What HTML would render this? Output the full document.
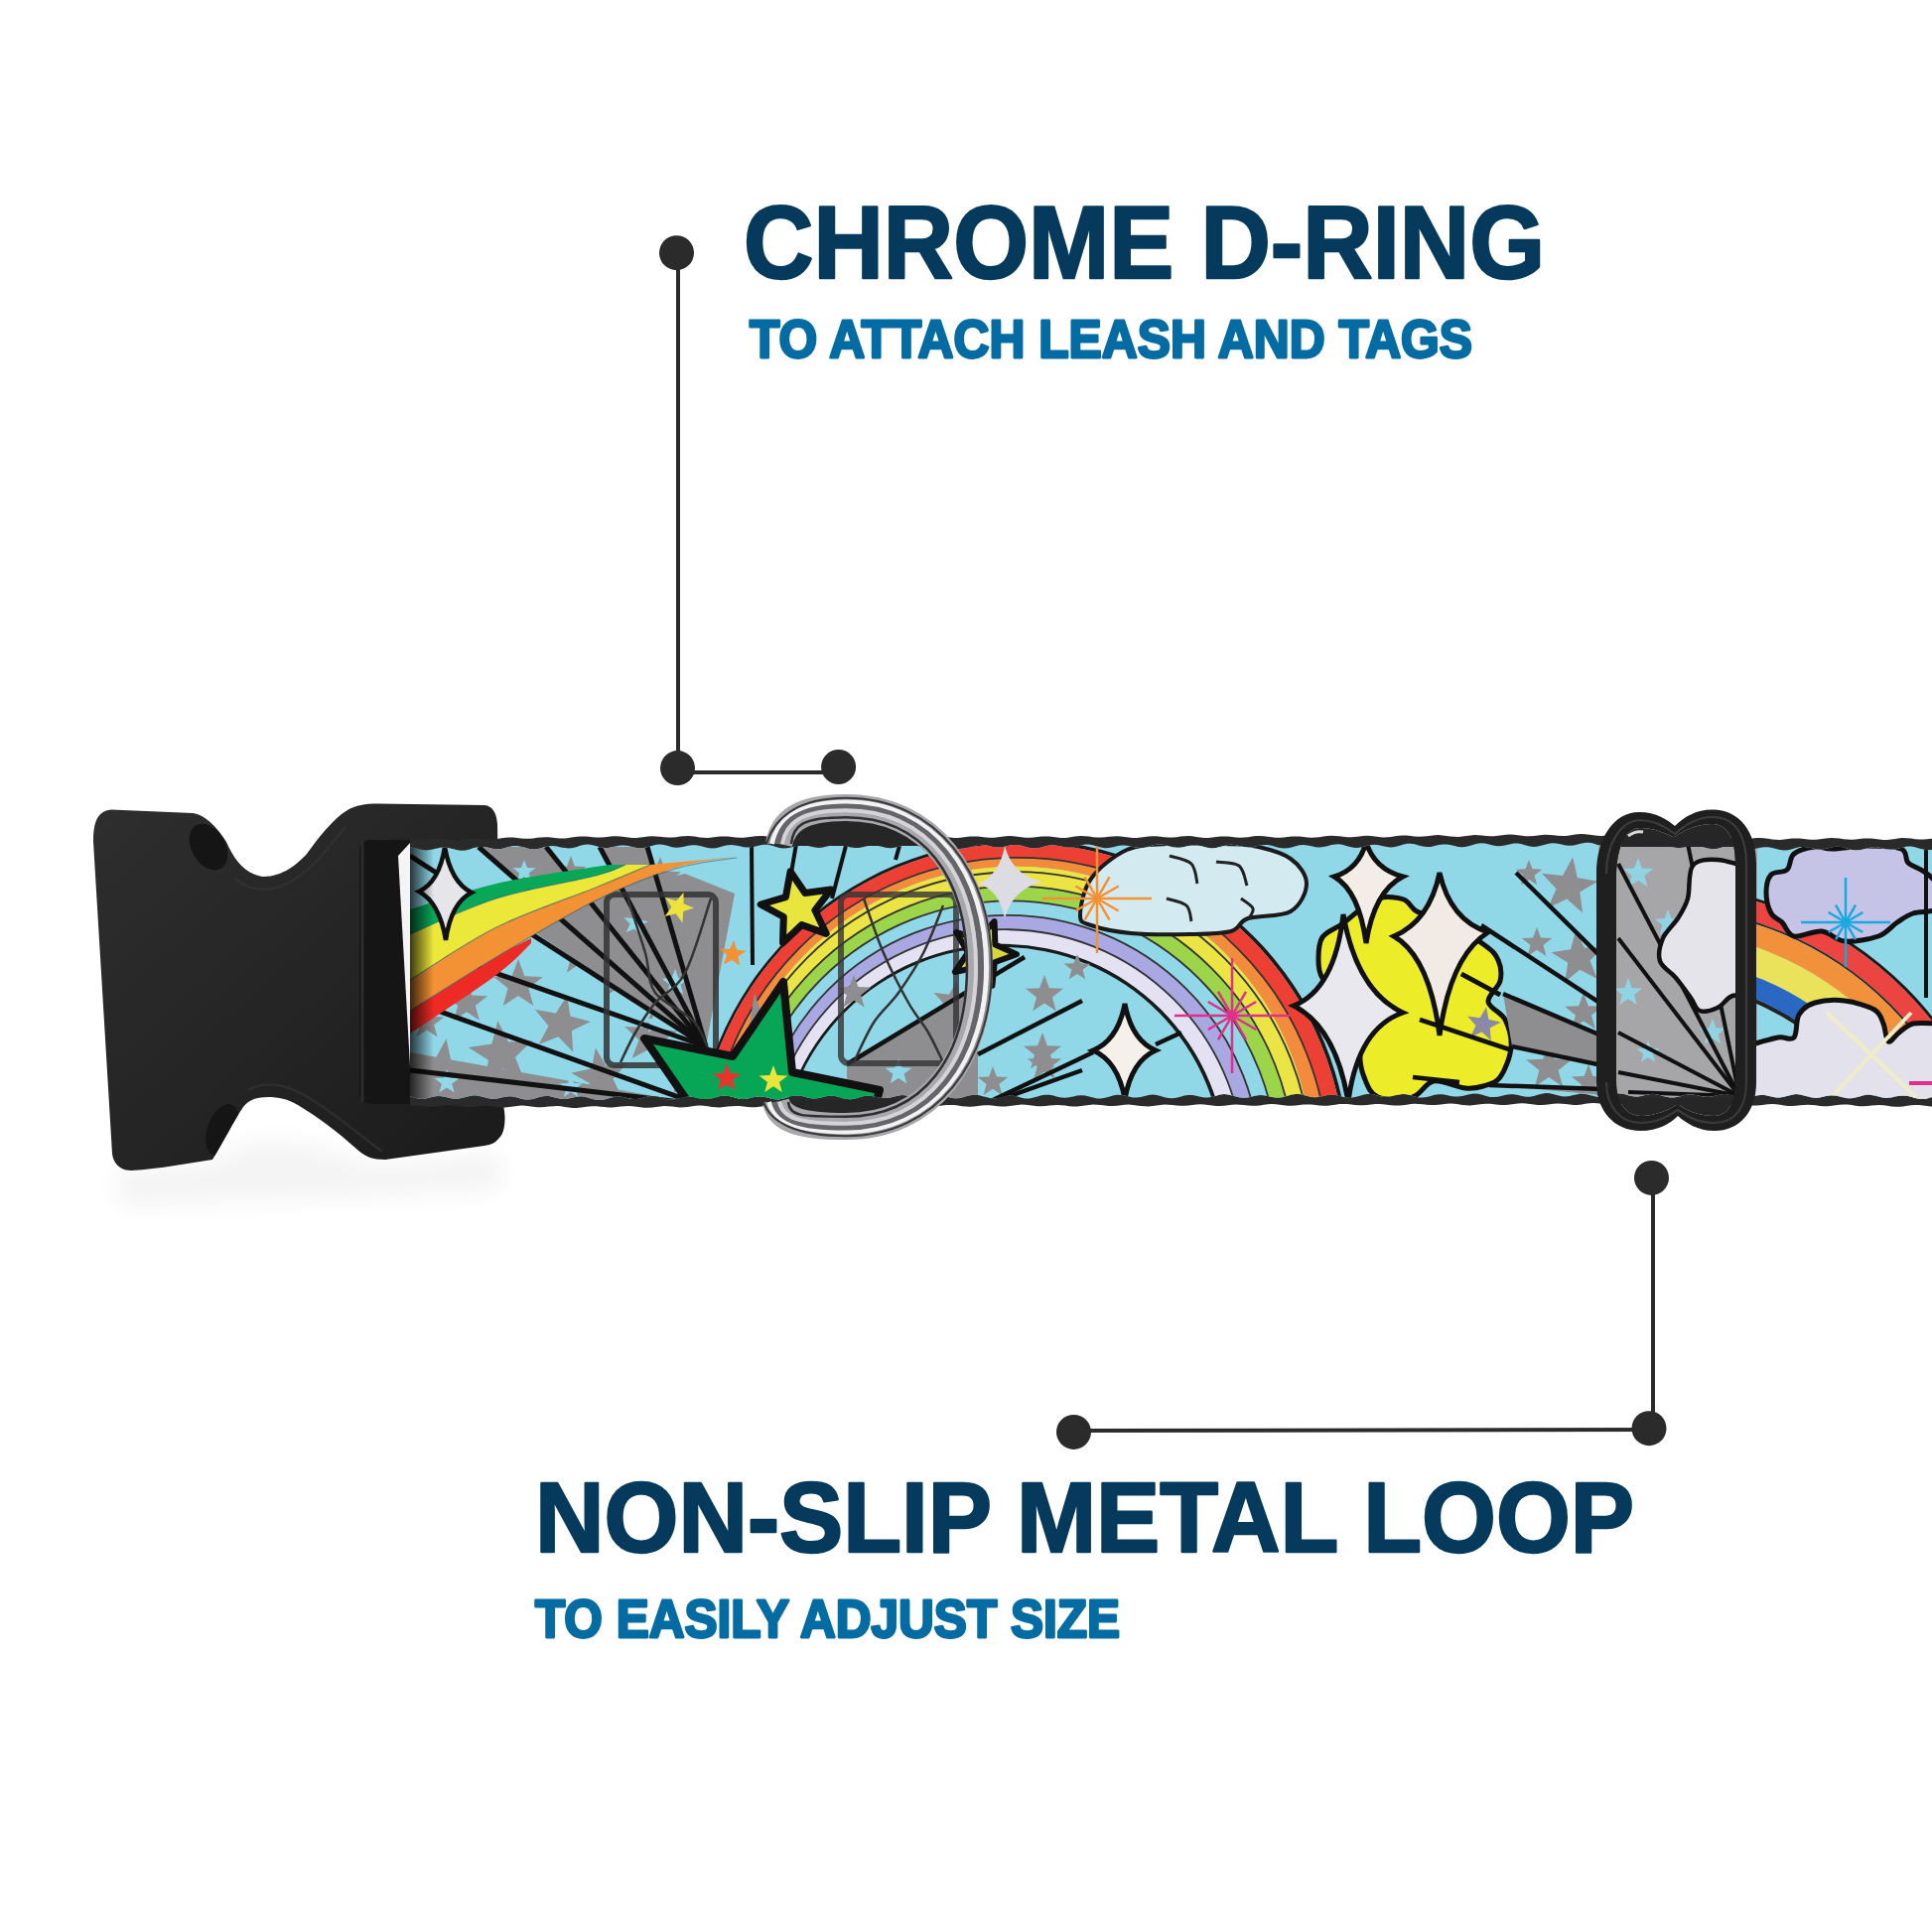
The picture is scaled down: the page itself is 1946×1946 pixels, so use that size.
<!DOCTYPE html>
<html><head><meta charset="utf-8"><title>Collar</title>
<style>
html,body{margin:0;padding:0;background:#fff;width:1946px;height:1946px;overflow:hidden}
svg{display:block}
.h{font-family:"Liberation Sans",sans-serif;font-weight:bold;fill:#053a5c;stroke:#053a5c;stroke-width:2.5;stroke-linejoin:round}
.s{font-family:"Liberation Sans",sans-serif;font-weight:bold;fill:#046ca3;stroke:#046ca3;stroke-width:2.8;stroke-linejoin:round}
</style></head><body>
<svg width="1946" height="1946" viewBox="0 0 1946 1946">
<rect width="1946" height="1946" fill="#fff"/>
<!-- headings -->
<text class="h" x="749" y="280" font-size="104" textLength="807" lengthAdjust="spacingAndGlyphs">CHROME D-RING</text>
<text class="s" x="755" y="360" font-size="53" textLength="728" lengthAdjust="spacingAndGlyphs">TO ATTACH LEASH AND TAGS</text>
<text class="h" x="539" y="1563" font-size="101" textLength="1107" lengthAdjust="spacingAndGlyphs">NON-SLIP METAL LOOP</text>
<text class="s" x="539" y="1649" font-size="53" textLength="589" lengthAdjust="spacingAndGlyphs">TO EASILY ADJUST SIZE</text>
<!-- callouts -->
<g fill="#2b2b2b" stroke="none">
<circle cx="681.5" cy="254.7" r="17.5"/>
<circle cx="682.5" cy="773.6" r="17.5"/>
<circle cx="844.6" cy="772.5" r="17.5"/>
<circle cx="1663.5" cy="1186.4" r="17.5"/>
<circle cx="1661" cy="1438.7" r="17.5"/>
<circle cx="1081.5" cy="1442.4" r="17.5"/>
</g>
<g stroke="#2b2b2b" stroke-width="4" fill="none">
<line x1="683" y1="255" x2="683" y2="776"/>
<line x1="683" y1="778" x2="845" y2="778"/>
<line x1="1665" y1="1186" x2="1665" y2="1440"/>
<line x1="1081" y1="1441" x2="1661" y2="1440"/>
</g>
<defs><linearGradient id="bkg" x1="0" y1="0" x2="1" y2="1"><stop offset="0" stop-color="#2e2e2e"/><stop offset="0.55" stop-color="#242424"/><stop offset="1" stop-color="#1a1a1a"/></linearGradient><filter id="blur8" x="-50%" y="-50%" width="200%" height="200%"><feGaussianBlur stdDeviation="12"/></filter></defs>
<path d="M115,1178 L215,1170 L250,1150 L300,1150 L380,1172 L505,1160 L505,1200 L120,1215Z" fill="#000" opacity="0.045" filter="url(#blur8)"/>
<path d="M94,848 C94,830 97,817 112,815.5 L194,819 C208,821 220,835 228,848 C236,866 246,880 265,883 C285,883 300,870 309,860 C320,845 335,825 350,816 C358,811 368,809.5 380,809.5 L488,811 C496,812 500,818 501,830 L505,1108 C510,1118 510,1140 503,1146 C498,1152 494,1153 488,1154 L388,1168 C375,1168 368,1165 360,1158 C340,1140 320,1125 300,1113 C290,1107 280,1105 270,1105 C258,1105 250,1108 245,1115 C235,1130 225,1150 214,1168 L165,1175.7 C150,1177 135,1180 127,1178.5 C118,1176 114,1170 113,1162 Z" fill="url(#bkg)" />
<defs><clipPath id="bkc"><path d="M94,848 C94,830 97,817 112,815.5 L194,819 C208,821 220,835 228,848 C236,866 246,880 265,883 C285,883 300,870 309,860 C320,845 335,825 350,816 C358,811 368,809.5 380,809.5 L488,811 C496,812 500,818 501,830 L505,1108 C510,1118 510,1140 503,1146 C498,1152 494,1153 488,1154 L388,1168 C375,1168 368,1165 360,1158 C340,1140 320,1125 300,1113 C290,1107 280,1105 270,1105 C258,1105 250,1108 245,1115 C235,1130 225,1150 214,1168 L165,1175.7 C150,1177 135,1180 127,1178.5 C118,1176 114,1170 113,1162 Z"/></clipPath></defs>
<g clip-path="url(#bkc)">
<ellipse cx="210" cy="853" rx="17" ry="25" fill="#151515" transform="rotate(-30 210 853)"/>
<ellipse cx="224" cy="1138" rx="15" ry="27" fill="#151515" transform="rotate(20 224 1138)"/>
<path d="M236,884 C245,893 255,896 268,896 C295,894 320,870 348,832" fill="none" stroke="#333" stroke-width="2.5" opacity="0.7"/>
<path d="M250,1098 C260,1092 270,1092 280,1093 C310,1098 345,1130 385,1160" fill="none" stroke="#333" stroke-width="2.5" opacity="0.7"/>
</g>
<rect x="362" y="846" width="60" height="266" rx="10" fill="#151515"/>
<path d="M365,846 L365,1110" stroke="#2c2c2c" stroke-width="3"/>
<polygon points="401,862 413,849 418,1107 415,1109" fill="#f4f4f4"/>
<defs><clipPath id="cin"><path d="M413,853.6 L417,854.1 L421,855 L425,856 L429,856.4 L433,856.1 L437,855.3 L441,854.2 L445,853.5 L449,853.5 L453,854.2 L457,855.3 L461,856.3 L465,856.7 L469,856.4 L473,855.4 L477,854.1 L481,853.2 L485,852.9 L489,853.3 L493,854.1 L497,854.9 L501,855.3 L505,854.9 L509,853.9 L513,852.8 L517,852 L521,852 L525,852.7 L529,853.8 L533,854.9 L537,855.4 L541,855.2 L545,854.3 L549,853.1 L553,852.3 L557,852 L561,852.5 L565,853.4 L569,854.1 L573,854.4 L577,853.9 L581,852.9 L585,851.6 L589,850.8 L593,850.6 L597,851.2 L601,852.3 L605,853.4 L609,854 L613,853.9 L617,853.1 L621,852.2 L625,851.5 L629,851.4 L633,852.1 L637,853.1 L641,854 L645,854.4 L649,853.9 L653,852.9 L657,851.7 L661,850.8 L665,850.6 L669,851.1 L673,852.1 L677,853.2 L681,853.7 L685,853.5 L689,852.7 L693,851.8 L697,851.2 L701,851.2 L705,851.9 L709,853.1 L713,854.1 L717,854.6 L721,854.2 L725,853.3 L729,852.1 L733,851.2 L737,850.9 L741,851.4 L745,852.3 L749,853.2 L753,853.6 L757,853.3 L761,852.5 L765,851.5 L769,850.8 L773,850.8 L777,851.6 L781,852.8 L785,853.9 L789,854.5 L793,854.3 L797,853.4 L801,852.3 L805,851.5 L809,851.3 L813,851.8 L817,852.7 L821,853.5 L825,853.9 L829,853.5 L833,852.5 L837,851.4 L841,850.6 L845,850.5 L849,851.2 L853,852.4 L857,853.5 L861,854.1 L865,854 L869,853.2 L873,852.2 L877,851.5 L881,851.4 L885,852 L889,853 L893,853.9 L897,854.3 L901,853.8 L905,852.8 L909,851.6 L913,850.7 L917,850.5 L921,851.1 L925,852.2 L929,853.2 L933,853.8 L937,853.6 L941,852.8 L945,851.9 L949,851.3 L953,851.3 L957,852 L961,853.1 L965,854.1 L969,854.5 L973,854.2 L977,853.2 L981,852 L985,851 L989,850.8 L993,851.3 L997,852.2 L1001,853.2 L1005,853.6 L1009,853.4 L1013,852.5 L1017,851.5 L1021,850.9 L1025,850.9 L1029,851.7 L1033,852.9 L1037,854 L1041,854.5 L1045,854.3 L1049,853.4 L1053,852.3 L1057,851.4 L1061,851.2 L1065,851.7 L1069,852.6 L1073,853.4 L1077,853.8 L1081,853.4 L1085,852.5 L1089,851.4 L1093,850.6 L1097,850.6 L1101,851.3 L1105,852.5 L1109,853.6 L1113,854.2 L1117,854.1 L1121,853.3 L1125,852.3 L1129,851.5 L1133,851.4 L1137,852 L1141,852.9 L1145,853.8 L1149,854.2 L1153,853.7 L1157,852.7 L1161,851.5 L1165,850.6 L1169,850.5 L1173,851.1 L1177,852.2 L1181,853.3 L1185,853.8 L1189,853.7 L1193,853 L1197,852 L1201,851.4 L1205,851.3 L1209,852 L1213,853.1 L1217,854.1 L1221,854.5 L1225,854.1 L1229,853.1 L1233,851.9 L1237,850.9 L1241,850.7 L1245,851.2 L1249,852.2 L1253,853.1 L1257,853.6 L1261,853.4 L1265,852.6 L1269,851.6 L1273,851 L1277,851 L1281,851.8 L1285,853 L1289,854 L1293,854.6 L1297,854.3 L1301,853.4 L1305,852.2 L1309,851.3 L1313,851 L1317,851.4 L1321,852.3 L1325,853.2 L1329,853.5 L1333,853.1 L1337,852.2 L1341,851.1 L1345,850.4 L1349,850.3 L1353,851 L1357,852.2 L1361,853.3 L1365,853.9 L1369,853.7 L1373,852.9 L1377,851.8 L1381,851 L1385,850.8 L1389,851.3 L1393,852.2 L1397,853.1 L1401,853.4 L1405,852.9 L1409,851.9 L1413,850.7 L1417,849.8 L1421,849.7 L1425,850.3 L1429,851.4 L1433,852.5 L1437,853 L1441,852.9 L1445,852.1 L1449,851.1 L1453,850.4 L1457,850.4 L1461,851 L1465,852 L1469,852.9 L1473,853.3 L1477,852.8 L1481,851.8 L1485,850.5 L1489,849.6 L1493,849.3 L1497,849.8 L1501,850.8 L1505,851.8 L1509,852.3 L1513,852 L1517,851.2 L1521,850.2 L1525,849.6 L1529,849.6 L1533,850.3 L1537,851.4 L1541,852.5 L1545,852.9 L1549,852.6 L1553,851.6 L1557,850.4 L1561,849.5 L1565,849.2 L1569,849.7 L1573,850.6 L1577,851.4 L1581,851.8 L1585,851.4 L1589,850.5 L1593,849.5 L1597,848.7 L1601,848.8 L1605,849.6 L1609,850.9 L1613,852.1 L1617,852.8 L1621,852.7 L1625,852 L1629,851 L1633,850.3 L1637,850.2 L1641,850.8 L1645,851.8 L1649,852.8 L1653,853.2 L1657,852.9 L1661,852 L1665,850.9 L1669,850.2 L1673,850.2 L1677,851 L1681,852.2 L1685,853.4 L1689,854.1 L1693,854.1 L1697,853.4 L1701,852.5 L1705,851.9 L1709,852 L1713,852.7 L1717,853.8 L1721,854.8 L1725,855.2 L1729,854.9 L1733,854 L1737,852.8 L1741,852 L1745,851.9 L1749,852.6 L1753,853.7 L1757,854.8 L1761,855.5 L1765,855.4 L1769,854.7 L1773,853.8 L1777,853.2 L1781,853.2 L1785,853.9 L1789,855.1 L1793,856.1 L1797,856.6 L1801,856.2 L1805,855.2 L1809,854 L1813,853.1 L1817,852.9 L1821,853.4 L1825,854.3 L1829,855.2 L1833,855.6 L1837,855.3 L1841,854.5 L1845,853.5 L1849,852.8 L1853,852.8 L1857,853.6 L1861,854.8 L1865,855.9 L1869,856.5 L1873,856.3 L1877,855.4 L1881,854.3 L1885,853.4 L1889,853.2 L1893,853.7 L1897,854.7 L1901,855.5 L1905,855.8 L1909,855.5 L1913,854.5 L1917,853.4 L1921,852.6 L1925,852.5 L1929,853.2 L1933,854.4 L1937,855.5 L1941,856.2 L1945,856 L1949,855.3 L1949,1104.1 L1945,1105.3 L1941,1106.4 L1937,1107 L1933,1106.8 L1929,1106 L1925,1104.8 L1921,1103.8 L1917,1103.4 L1913,1103.8 L1909,1104.6 L1905,1105.5 L1901,1105.9 L1897,1105.7 L1893,1104.8 L1889,1103.7 L1885,1102.9 L1881,1102.7 L1877,1103.3 L1873,1104.5 L1869,1105.6 L1865,1106.3 L1861,1106.3 L1857,1105.5 L1853,1104.4 L1849,1103.6 L1845,1103.3 L1841,1103.7 L1837,1104.6 L1833,1105.5 L1829,1105.9 L1825,1105.5 L1821,1104.6 L1817,1103.4 L1813,1102.4 L1809,1102.1 L1805,1102.7 L1801,1103.7 L1797,1104.8 L1793,1105.5 L1789,1105.5 L1785,1104.8 L1781,1103.8 L1777,1103 L1773,1102.9 L1769,1103.4 L1765,1104.4 L1761,1105.3 L1757,1105.8 L1753,1105.5 L1749,1104.5 L1745,1103.3 L1741,1102.3 L1737,1101.9 L1733,1102.3 L1729,1103.2 L1725,1104.2 L1721,1104.8 L1717,1104.7 L1713,1104 L1709,1103 L1705,1102.3 L1701,1102.2 L1697,1102.8 L1693,1103.9 L1689,1105 L1685,1105.5 L1681,1105.3 L1677,1104.4 L1673,1103.2 L1669,1102.2 L1665,1101.8 L1661,1102.2 L1657,1103 L1653,1103.9 L1649,1104.4 L1645,1104.2 L1641,1103.4 L1637,1102.3 L1633,1101.5 L1629,1101.3 L1625,1102 L1621,1103.1 L1617,1104.3 L1613,1105 L1609,1104.9 L1605,1104.1 L1601,1103 L1597,1102.1 L1593,1101.8 L1589,1102.2 L1585,1103.1 L1581,1104.1 L1577,1104.5 L1573,1104.2 L1569,1103.3 L1565,1102.2 L1561,1101.3 L1557,1101.1 L1553,1101.7 L1549,1102.8 L1545,1104 L1541,1104.7 L1537,1104.7 L1533,1104 L1529,1103.1 L1525,1102.3 L1521,1102.2 L1517,1102.7 L1513,1103.7 L1509,1104.7 L1505,1105.1 L1501,1104.9 L1497,1103.9 L1493,1102.7 L1489,1101.7 L1485,1101.4 L1481,1101.9 L1477,1102.9 L1473,1104 L1469,1104.6 L1465,1104.6 L1461,1103.9 L1457,1103 L1453,1102.2 L1449,1102.2 L1445,1102.8 L1441,1103.9 L1437,1105 L1433,1105.6 L1429,1105.4 L1425,1104.5 L1421,1103.3 L1417,1102.3 L1413,1102 L1409,1102.4 L1405,1103.3 L1401,1104.2 L1397,1104.8 L1393,1104.6 L1389,1103.9 L1385,1102.8 L1381,1102.1 L1377,1102 L1373,1102.7 L1369,1103.9 L1365,1105.1 L1361,1105.7 L1357,1105.7 L1353,1104.9 L1349,1103.8 L1345,1102.9 L1341,1102.6 L1337,1103 L1333,1103.9 L1329,1104.8 L1325,1105.2 L1321,1105 L1317,1104.1 L1313,1103 L1309,1102.1 L1305,1102 L1301,1102.6 L1297,1103.7 L1293,1104.9 L1289,1105.6 L1285,1105.6 L1281,1105 L1277,1104 L1273,1103.2 L1269,1103 L1265,1103.5 L1261,1104.4 L1257,1105.4 L1253,1105.8 L1249,1105.5 L1245,1104.6 L1241,1103.4 L1237,1102.4 L1233,1102.1 L1229,1102.6 L1225,1103.7 L1221,1104.8 L1217,1105.4 L1213,1105.4 L1209,1104.8 L1205,1103.8 L1201,1103.1 L1197,1103 L1193,1103.6 L1189,1104.7 L1185,1105.8 L1181,1106.3 L1177,1106.1 L1173,1105.2 L1169,1103.9 L1165,1103 L1161,1102.6 L1157,1103 L1153,1103.9 L1149,1104.9 L1145,1105.5 L1141,1105.4 L1137,1104.6 L1133,1103.6 L1129,1102.9 L1125,1102.8 L1121,1103.5 L1117,1104.7 L1113,1105.8 L1109,1106.5 L1105,1106.4 L1101,1105.6 L1097,1104.4 L1093,1103.5 L1089,1103.2 L1085,1103.6 L1081,1104.4 L1077,1105.3 L1073,1105.8 L1069,1105.6 L1065,1104.7 L1061,1103.6 L1057,1102.8 L1053,1102.7 L1049,1103.3 L1045,1104.5 L1041,1105.6 L1037,1106.4 L1033,1106.4 L1029,1105.7 L1025,1104.6 L1021,1103.8 L1017,1103.6 L1013,1104.1 L1009,1105 L1005,1105.9 L1001,1106.4 L997,1106.1 L993,1105.1 L989,1103.9 L985,1103 L981,1102.7 L977,1103.3 L973,1104.3 L969,1105.5 L965,1106.2 L961,1106.2 L957,1105.5 L953,1104.6 L949,1103.8 L945,1103.7 L941,1104.3 L937,1105.3 L933,1106.4 L929,1106.9 L925,1106.6 L921,1105.7 L917,1104.5 L913,1103.5 L909,1103.1 L905,1103.5 L901,1104.5 L897,1105.5 L893,1106.1 L889,1106 L885,1105.3 L881,1104.4 L877,1103.7 L873,1103.6 L869,1104.3 L865,1105.4 L861,1106.5 L857,1107.2 L853,1107 L849,1106.2 L845,1105 L841,1104.1 L837,1103.7 L833,1104.1 L829,1105 L825,1105.9 L821,1106.4 L817,1106.2 L813,1105.4 L809,1104.3 L805,1103.6 L801,1103.5 L797,1104.1 L793,1105.3 L789,1106.5 L785,1107.2 L781,1107.2 L777,1106.4 L773,1105.4 L769,1104.5 L765,1104.3 L761,1104.7 L757,1105.6 L753,1106.6 L749,1107 L745,1106.7 L741,1105.8 L737,1104.6 L733,1103.7 L729,1103.5 L725,1104.1 L721,1105.2 L717,1106.3 L713,1107.1 L709,1107.1 L705,1106.4 L701,1105.4 L697,1104.7 L693,1104.6 L689,1105.1 L685,1106.1 L681,1107.1 L677,1107.6 L673,1107.4 L669,1106.4 L665,1105.2 L661,1104.2 L657,1103.9 L653,1104.3 L649,1105.3 L645,1106.4 L641,1107 L637,1106.9 L633,1106.3 L629,1105.3 L625,1104.6 L621,1104.5 L617,1105.2 L613,1106.3 L609,1107.4 L605,1108 L601,1107.9 L597,1107 L593,1105.7 L589,1104.7 L585,1104.3 L581,1104.7 L577,1105.6 L573,1106.5 L569,1107 L565,1106.7 L561,1105.9 L557,1104.9 L553,1104.1 L549,1103.9 L545,1104.6 L541,1105.7 L537,1106.9 L533,1107.5 L529,1107.5 L525,1106.7 L521,1105.6 L517,1104.6 L513,1104.3 L509,1104.7 L505,1105.6 L501,1106.4 L497,1106.8 L493,1106.5 L489,1105.6 L485,1104.4 L481,1103.5 L477,1103.3 L473,1103.9 L469,1105 L465,1106.1 L461,1106.8 L457,1106.8 L453,1106.1 L449,1105.1 L445,1104.3 L441,1104 L437,1104.5 L433,1105.5 L429,1106.4 L425,1106.8 L421,1106.5 L417,1105.6 L413,1104.3Z"/></clipPath></defs>
<path d="M413,845.9 L417,846.3 L421,846.5 L425,846.4 L429,845.9 L433,845.3 L437,844.8 L441,844.5 L445,844.7 L449,845.2 L453,845.7 L457,846.1 L461,846.1 L465,845.7 L469,845.2 L473,844.7 L477,844.4 L481,844.5 L485,844.9 L489,845.3 L493,845.6 L497,845.4 L501,844.9 L505,844.3 L509,843.7 L513,843.4 L517,843.5 L521,843.9 L525,844.4 L529,844.7 L533,844.7 L537,844.4 L541,843.8 L545,843.4 L549,843.2 L553,843.3 L557,843.8 L561,844.3 L565,844.5 L569,844.4 L573,844 L577,843.3 L581,842.7 L585,842.4 L589,842.4 L593,842.8 L597,843.2 L601,843.5 L605,843.5 L609,843.2 L613,842.7 L617,842.3 L621,842.2 L625,842.4 L629,843 L633,843.6 L637,844 L641,844 L645,843.6 L649,843.1 L653,842.6 L657,842.3 L661,842.4 L665,842.8 L669,843.3 L673,843.6 L677,843.6 L681,843.2 L685,842.6 L689,842.2 L693,842 L697,842.2 L701,842.8 L705,843.4 L709,843.8 L713,843.9 L717,843.6 L721,843.1 L725,842.6 L729,842.4 L733,842.6 L737,843 L741,843.5 L745,843.8 L749,843.7 L753,843.3 L757,842.7 L761,842.2 L765,842 L769,842.1 L773,842.6 L777,843.2 L781,843.6 L785,843.7 L789,843.4 L793,842.9 L797,842.5 L801,842.4 L805,842.6 L809,843.1 L813,843.6 L817,844 L821,843.9 L825,843.5 L829,842.9 L833,842.3 L837,842.1 L841,842.2 L845,842.6 L849,843.2 L853,843.5 L857,843.5 L861,843.2 L865,842.7 L869,842.3 L873,842.2 L877,842.5 L881,843 L885,843.6 L889,844 L893,844 L897,843.6 L901,843.1 L905,842.5 L909,842.3 L913,842.4 L917,842.8 L921,843.3 L925,843.6 L929,843.5 L933,843.2 L937,842.6 L941,842.2 L945,842 L949,842.3 L953,842.8 L957,843.4 L961,843.9 L965,843.9 L969,843.6 L973,843.1 L977,842.6 L981,842.4 L985,842.6 L989,843 L993,843.5 L997,843.7 L1001,843.7 L1005,843.2 L1009,842.7 L1013,842.2 L1017,842 L1021,842.2 L1025,842.7 L1029,843.3 L1033,843.7 L1037,843.7 L1041,843.5 L1045,843 L1049,842.6 L1053,842.4 L1057,842.6 L1061,843.1 L1065,843.6 L1069,843.9 L1073,843.9 L1077,843.4 L1081,842.8 L1085,842.3 L1089,842 L1093,842.2 L1097,842.6 L1101,843.2 L1105,843.5 L1109,843.6 L1113,843.3 L1117,842.8 L1121,842.4 L1125,842.3 L1129,842.5 L1133,843.1 L1137,843.6 L1141,844 L1145,844 L1149,843.6 L1153,843 L1157,842.5 L1161,842.2 L1165,842.3 L1169,842.7 L1173,843.2 L1177,843.5 L1181,843.5 L1185,843.2 L1189,842.6 L1193,842.2 L1197,842.1 L1201,842.3 L1205,842.9 L1209,843.5 L1213,843.9 L1217,844 L1221,843.6 L1225,843.1 L1229,842.6 L1233,842.4 L1237,842.5 L1241,842.9 L1245,843.4 L1249,843.7 L1253,843.6 L1257,843.2 L1261,842.6 L1265,842.1 L1269,842 L1273,842.2 L1277,842.7 L1281,843.3 L1285,843.7 L1289,843.8 L1293,843.5 L1297,843 L1301,842.6 L1305,842.4 L1309,842.6 L1313,843 L1317,843.5 L1321,843.7 L1325,843.6 L1329,843.2 L1333,842.6 L1337,842 L1341,841.7 L1345,841.9 L1349,842.3 L1353,842.8 L1357,843.2 L1361,843.2 L1365,842.9 L1369,842.4 L1373,842 L1377,841.8 L1381,842 L1385,842.5 L1389,843 L1393,843.4 L1397,843.3 L1401,842.9 L1405,842.3 L1409,841.7 L1413,841.4 L1417,841.5 L1421,841.9 L1425,842.4 L1429,842.7 L1433,842.6 L1437,842.3 L1441,841.7 L1445,841.3 L1449,841.1 L1453,841.4 L1457,841.9 L1461,842.5 L1465,842.8 L1469,842.9 L1473,842.5 L1477,841.9 L1481,841.4 L1485,841.1 L1489,841.2 L1493,841.6 L1497,842 L1501,842.3 L1505,842.2 L1509,841.8 L1513,841.2 L1517,840.7 L1521,840.5 L1525,840.7 L1529,841.2 L1533,841.8 L1537,842.2 L1541,842.2 L1545,841.9 L1549,841.4 L1553,840.9 L1557,840.7 L1561,840.9 L1565,841.3 L1569,841.7 L1573,842 L1577,841.9 L1581,841.5 L1585,840.8 L1589,840.3 L1593,840 L1597,840.2 L1601,840.7 L1605,841.3 L1609,841.8 L1613,842 L1617,841.8 L1621,841.4 L1625,841.1 L1629,841 L1633,841.4 L1637,842 L1641,842.6 L1645,843 L1649,843.1 L1653,842.8 L1657,842.2 L1661,841.8 L1665,841.6 L1669,841.8 L1673,842.4 L1677,843 L1681,843.4 L1685,843.5 L1689,843.3 L1693,842.9 L1697,842.6 L1701,842.5 L1705,842.9 L1709,843.5 L1713,844.2 L1717,844.7 L1721,844.8 L1725,844.5 L1729,844.1 L1733,843.6 L1737,843.5 L1741,843.7 L1745,844.2 L1749,844.8 L1753,845.1 L1757,845.2 L1761,844.9 L1765,844.5 L1769,844.1 L1773,844 L1777,844.3 L1781,844.8 L1785,845.4 L1789,845.8 L1793,845.9 L1797,845.6 L1801,845.1 L1805,844.6 L1809,844.4 L1813,844.6 L1817,845 L1821,845.5 L1825,845.8 L1829,845.7 L1833,845.3 L1837,844.7 L1841,844.2 L1845,844 L1849,844.2 L1853,844.6 L1857,845.2 L1861,845.6 L1865,845.7 L1869,845.4 L1873,845 L1877,844.5 L1881,844.4 L1885,844.6 L1889,845.1 L1893,845.6 L1897,845.9 L1901,845.9 L1905,845.5 L1909,844.9 L1913,844.3 L1917,844.1 L1921,844.2 L1925,844.6 L1929,845.2 L1933,845.5 L1937,845.5 L1941,845.2 L1945,844.8 L1949,844.4 L1949,1114.5 L1945,1114.5 L1941,1114.1 L1937,1113.6 L1933,1113.1 L1929,1113 L1925,1113.3 L1921,1113.8 L1917,1114.4 L1913,1114.8 L1909,1114.7 L1905,1114.4 L1901,1113.8 L1897,1113.3 L1893,1113.1 L1889,1113.2 L1885,1113.6 L1881,1114 L1877,1114.3 L1873,1114.2 L1869,1113.7 L1865,1113.1 L1861,1112.6 L1857,1112.5 L1853,1112.7 L1849,1113.2 L1845,1113.8 L1841,1114.2 L1837,1114.2 L1833,1113.9 L1829,1113.3 L1825,1112.9 L1821,1112.7 L1817,1112.9 L1813,1113.3 L1809,1113.8 L1805,1114 L1801,1113.9 L1797,1113.5 L1793,1112.8 L1789,1112.3 L1785,1112.1 L1781,1112.2 L1777,1112.7 L1773,1113.2 L1769,1113.6 L1765,1113.6 L1761,1113.3 L1757,1112.8 L1753,1112.3 L1749,1112.2 L1745,1112.5 L1741,1112.9 L1737,1113.5 L1733,1113.8 L1729,1113.7 L1725,1113.2 L1721,1112.6 L1717,1112.1 L1713,1111.8 L1709,1111.9 L1705,1112.3 L1701,1112.8 L1697,1113.1 L1693,1113 L1689,1112.7 L1685,1112.2 L1681,1111.7 L1677,1111.6 L1673,1111.9 L1669,1112.4 L1665,1113 L1661,1113.3 L1657,1113.3 L1653,1112.9 L1649,1112.3 L1645,1111.8 L1641,1111.6 L1637,1111.7 L1633,1112.1 L1629,1112.5 L1625,1112.8 L1621,1112.7 L1617,1112.2 L1613,1111.7 L1609,1111.2 L1605,1111 L1601,1111.3 L1597,1111.8 L1593,1112.4 L1589,1112.9 L1585,1112.9 L1581,1112.6 L1577,1112.1 L1573,1111.7 L1569,1111.5 L1565,1111.7 L1561,1112.2 L1557,1112.7 L1553,1113 L1549,1112.9 L1545,1112.5 L1541,1111.9 L1537,1111.4 L1533,1111.2 L1529,1111.4 L1525,1111.9 L1521,1112.5 L1517,1112.9 L1513,1113 L1509,1112.7 L1505,1112.2 L1501,1111.8 L1497,1111.7 L1493,1112 L1489,1112.5 L1485,1113 L1481,1113.4 L1477,1113.3 L1473,1112.9 L1469,1112.3 L1465,1111.8 L1461,1111.5 L1457,1111.7 L1453,1112.2 L1449,1112.7 L1445,1113 L1441,1113.1 L1437,1112.7 L1433,1112.3 L1429,1111.9 L1425,1111.8 L1421,1112.1 L1417,1112.7 L1413,1113.3 L1409,1113.6 L1405,1113.6 L1401,1113.3 L1397,1112.7 L1393,1112.2 L1389,1112 L1385,1112.1 L1381,1112.6 L1377,1113 L1373,1113.3 L1369,1113.3 L1365,1112.9 L1361,1112.4 L1357,1112 L1353,1111.9 L1349,1112.1 L1345,1112.7 L1341,1113.3 L1337,1113.7 L1333,1113.8 L1329,1113.5 L1325,1113 L1321,1112.5 L1317,1112.4 L1313,1112.6 L1309,1113 L1305,1113.5 L1301,1113.7 L1297,1113.7 L1293,1113.2 L1289,1112.7 L1285,1112.2 L1281,1112 L1277,1112.2 L1273,1112.8 L1269,1113.4 L1265,1113.8 L1261,1113.8 L1257,1113.5 L1253,1113.1 L1249,1112.7 L1245,1112.6 L1241,1112.8 L1237,1113.3 L1233,1113.8 L1229,1114.1 L1225,1114 L1221,1113.6 L1217,1113 L1213,1112.5 L1209,1112.3 L1205,1112.4 L1201,1112.9 L1197,1113.5 L1193,1113.8 L1189,1113.8 L1185,1113.5 L1181,1113.1 L1177,1112.7 L1173,1112.6 L1169,1112.9 L1165,1113.4 L1161,1114 L1157,1114.4 L1153,1114.3 L1149,1113.9 L1145,1113.4 L1141,1112.9 L1137,1112.6 L1133,1112.8 L1129,1113.2 L1125,1113.7 L1121,1114 L1117,1114 L1113,1113.6 L1109,1113.1 L1105,1112.7 L1101,1112.6 L1097,1112.9 L1093,1113.4 L1089,1114 L1085,1114.5 L1081,1114.5 L1077,1114.2 L1073,1113.6 L1069,1113.2 L1065,1113 L1061,1113.2 L1057,1113.6 L1053,1114.1 L1049,1114.3 L1045,1114.2 L1041,1113.8 L1037,1113.3 L1033,1112.8 L1029,1112.6 L1025,1112.9 L1021,1113.4 L1017,1114 L1013,1114.4 L1009,1114.5 L1005,1114.2 L1001,1113.7 L997,1113.3 L993,1113.2 L989,1113.4 L985,1113.9 L981,1114.4 L977,1114.7 L973,1114.6 L969,1114.2 L965,1113.6 L961,1113.1 L957,1112.9 L953,1113.1 L949,1113.5 L945,1114.1 L941,1114.5 L937,1114.5 L933,1114.2 L929,1113.7 L925,1113.4 L921,1113.3 L917,1113.5 L913,1114.1 L909,1114.6 L905,1115 L901,1114.9 L897,1114.5 L893,1114 L889,1113.4 L885,1113.2 L881,1113.4 L877,1113.8 L873,1114.3 L869,1114.6 L865,1114.6 L861,1114.3 L857,1113.8 L853,1113.4 L849,1113.3 L845,1113.6 L841,1114.2 L837,1114.8 L833,1115.2 L829,1115.2 L825,1114.9 L821,1114.3 L817,1113.8 L813,1113.6 L809,1113.8 L805,1114.2 L801,1114.7 L797,1115 L793,1114.9 L789,1114.5 L785,1114 L781,1113.5 L777,1113.4 L773,1113.7 L769,1114.2 L765,1114.8 L761,1115.2 L757,1115.3 L753,1115 L749,1114.5 L745,1114.1 L741,1114 L737,1114.2 L733,1114.6 L729,1115.1 L725,1115.4 L721,1115.3 L717,1114.9 L713,1114.3 L709,1113.8 L705,1113.6 L701,1113.8 L697,1114.3 L693,1114.9 L689,1115.3 L685,1115.4 L681,1115.1 L677,1114.6 L673,1114.2 L669,1114.1 L665,1114.4 L661,1114.9 L657,1115.5 L653,1115.8 L649,1115.8 L645,1115.3 L641,1114.7 L637,1114.2 L633,1114 L629,1114.2 L625,1114.6 L621,1115.1 L617,1115.5 L613,1115.5 L609,1115.1 L605,1114.7 L601,1114.3 L597,1114.2 L593,1114.4 L589,1115 L585,1115.5 L581,1115.9 L577,1115.9 L573,1115.5 L569,1114.9 L565,1114.3 L561,1114.1 L557,1114.2 L553,1114.6 L549,1115.1 L545,1115.3 L541,1115.2 L537,1114.8 L533,1114.2 L529,1113.8 L525,1113.6 L521,1113.9 L517,1114.4 L513,1115 L509,1115.4 L505,1115.4 L501,1115 L497,1114.5 L493,1114 L489,1113.8 L485,1114 L481,1114.4 L477,1114.9 L473,1115.1 L469,1115 L465,1114.5 L461,1113.9 L457,1113.4 L453,1113.2 L449,1113.4 L445,1113.9 L441,1114.4 L437,1114.8 L433,1114.8 L429,1114.5 L425,1114 L421,1113.6 L417,1113.4 L413,1113.6Z" fill="#2a2a2a" stroke="none" stroke-width="0" />
<g clip-path="url(#cin)">
<rect x="400" y="840" width="1546" height="280" fill="#90d7e8"/>
<polygon points="711,1054 482,853 550,853" fill="#8e8e90" />
<polygon points="711,1054 604,853 652,853" fill="#8e8e90" />
<polygon points="711,1054 540,940 600,900 690,880 740,900" fill="#8e8e90" />
<polygon points="703,1112 413,1060 413,1120" fill="#8e8e90" />
<polygon points="711,1054 413,950 413,1000" fill="#90d7e8" />
<polygon points="449.5,1046.3 454.3,1068.3 476.5,1072.4 457.1,1083.9 460,1106.3 443.1,1091.3 422.8,1101 431.8,1080.3 416.2,1064 438.7,1066.1" fill="#8e8e90"/>
<polygon points="501.4,1028.2 512.1,1049.6 536.1,1048.2 519,1065 527.8,1087.3 506.5,1076.2 488,1091.4 492,1067.8 471.7,1054.9 495.4,1051.4" fill="#8e8e90"/>
<polygon points="571.2,1002.7 574.4,1023.6 594.8,1028.9 575.9,1038.3 577.2,1059.4 562.4,1044.3 542.7,1052.1 552.5,1033.3 539,1017 559.9,1020.5" fill="#8e8e90"/>
<polygon points="522,966 528.4,983.2 546.7,984 532.4,995.4 537.3,1013 522,1002.9 506.7,1013 511.6,995.4 497.3,984 515.6,983.2" fill="#8e8e90"/>
<polygon points="599.8,1055.5 610.5,1073.7 631.5,1070.9 617.5,1086.8 626.6,1105.8 607.2,1097.4 591.8,1112 593.9,1090.9 575.3,1080.8 595.9,1076.2" fill="#8e8e90"/>
<polygon points="657.4,1017.1 662.7,1036.1 682.3,1038.7 665.8,1049.6 669.4,1069 654,1056.7 636.6,1066.1 643.5,1047.6 629.2,1034.1 648.9,1034.9" fill="#8e8e90"/>
<polygon points="470,988 475.4,1002.5 490.9,1003.2 478.8,1012.9 482.9,1027.8 470,1019.2 457.1,1027.8 461.2,1012.9 449.1,1003.2 464.6,1002.5" fill="#8e8e90"/>
<polygon points="585,936 590.9,951.8 607.8,952.6 594.6,963.1 599.1,979.4 585,970.1 570.9,979.4 575.4,963.1 562.2,952.6 579.1,951.8" fill="#8e8e90"/>
<polygon points="430,1012 434.4,1023.9 447.1,1024.4 437.2,1032.3 440.6,1044.6 430,1037.6 419.4,1044.6 422.8,1032.3 412.9,1024.4 425.6,1023.9" fill="#8e8e90"/>
<polygon points="665,863 670.4,877.5 685.9,878.2 673.8,887.9 677.9,902.8 665,894.2 652.1,902.8 656.2,887.9 644.1,878.2 659.6,877.5" fill="#8e8e90"/>
<polygon points="575,862 578.9,872.6 590.2,873.1 581.4,880.1 584.4,890.9 575,884.7 565.6,890.9 568.6,880.1 559.8,873.1 571.1,872.6" fill="#8e8e90"/>
<polygon points="690,1065 694.9,1078.2 709,1078.8 698,1087.6 701.8,1101.2 690,1093.4 678.2,1101.2 682,1087.6 671,1078.8 685.1,1078.2" fill="#8e8e90"/>
<polygon points="625,965 629.9,978.2 644,978.8 633,987.6 636.8,1001.2 625,993.4 613.2,1001.2 617,987.6 606,978.8 620.1,978.2" fill="#8e8e90"/>
<polygon points="528,866 531,873.9 539.4,874.3 532.8,879.6 535.1,887.7 528,883 520.9,887.7 523.2,879.6 516.6,874.3 525,873.9" fill="#90d7e8"/>
<polygon points="642.3,917.2 643.9,926.2 652.9,928.2 644.8,932.6 645.7,941.7 639.1,935.4 630.6,939 634.6,930.8 628.5,923.9 637.6,925.1" fill="#90d7e8"/>
<polygon points="680,976 683.5,985.2 693.3,985.7 685.6,991.8 688.2,1001.3 680,995.9 671.8,1001.3 674.4,991.8 666.7,985.7 676.5,985.2" fill="#90d7e8"/>
<polygon points="600,994 602.7,1001.3 610.5,1001.6 604.4,1006.4 606.5,1013.9 600,1009.6 593.5,1013.9 595.6,1006.4 589.5,1001.6 597.3,1001.3" fill="#90d7e8"/>
<polygon points="660,1018 663,1025.9 671.4,1026.3 664.8,1031.6 667.1,1039.7 660,1035 652.9,1039.7 655.2,1031.6 648.6,1026.3 657,1025.9" fill="#90d7e8"/>
<polygon points="450,1077 453.2,1085.6 462.4,1086 455.2,1091.7 457.6,1100.5 450,1095.5 442.4,1100.5 444.8,1091.7 437.6,1086 446.8,1085.6" fill="#90d7e8"/>
<polygon points="575,1083 578,1090.9 586.4,1091.3 579.8,1096.6 582.1,1104.7 575,1100 567.9,1104.7 570.2,1096.6 563.6,1091.3 572,1090.9" fill="#90d7e8"/>
<line x1="413" y1="950" x2="711" y2="1054" stroke="#111" stroke-width="5" />
<line x1="413" y1="862" x2="711" y2="1054" stroke="#111" stroke-width="5" />
<line x1="482" y1="853" x2="711" y2="1054" stroke="#111" stroke-width="5" />
<line x1="550" y1="853" x2="711" y2="1054" stroke="#111" stroke-width="5" />
<line x1="604" y1="853" x2="711" y2="1054" stroke="#111" stroke-width="5" />
<line x1="652" y1="853" x2="711" y2="1054" stroke="#111" stroke-width="5" />
<line x1="413" y1="1008" x2="703" y2="1112" stroke="#111" stroke-width="5" />
<line x1="413" y1="1078" x2="703" y2="1112" stroke="#111" stroke-width="5" />
<rect x="611" y="901" width="110" height="172" rx="8" fill="none" stroke="#333" stroke-width="6" opacity="0.85"/>
<path d="M632,904 C635,913.3 645.3,944 650,960 C654.7,976 651.7,988.3 660,1000 C668.3,1011.7 690.3,1018.3 700,1030 C709.7,1041.7 715,1063.3 718,1070" fill="none" stroke="#333" stroke-width="2.5" />
<path d="M716,905 C711.7,917.5 699.3,962.5 690,980 C680.7,997.5 668.3,1000 660,1010 C651.7,1020 645.8,1030 640,1040 C634.2,1050 627.5,1065 625,1070" fill="none" stroke="#333" stroke-width="2.5" />
<path d="M413,987 C427.5,978.2 468.8,949.5 500,934 C531.2,918.5 574.2,904.5 600,894 C625.8,883.5 645.8,874.8 655,871 L742,863 C731.7,864.8 703.7,866.7 680,874 C656.3,881.3 630,892 600,907 C570,922 531.2,945.5 500,964 C468.8,982.5 427.5,1009 413,1018Z" fill="#f39234" stroke="none" stroke-width="0" />
<path d="M413,1018 C427.5,1009 479.7,976.2 500,964 C520.3,951.8 529.2,948.2 535,945 L535,950 C529.2,955.3 520.3,966.8 500,982 C479.7,997.2 427.5,1031.2 413,1041Z" fill="#ee2a24" stroke="none" stroke-width="0" />
<path d="M413,941 C427.5,935 468.8,914.8 500,905 C531.2,895.2 578.3,887.7 600,882 C621.7,876.3 625,872.8 630,871 L655,871 C645.8,874.8 625.8,883.5 600,894 C574.2,904.5 531.2,918.5 500,934 C468.8,949.5 427.5,978.2 413,987Z" fill="#ece83a" stroke="none" stroke-width="0" />
<path d="M413,916 C427.5,911.7 468.8,897.2 500,890 C531.2,882.8 580.3,876.2 600,873 C619.7,869.8 615,871.3 618,871 L630,871 C625,872.8 621.7,876.3 600,882 C578.3,887.7 531.2,895.2 500,905 C468.8,914.8 427.5,935 413,941Z" fill="#08a858" stroke="none" stroke-width="0" />
<path d="M413,941 C427.5,935 468.8,914.8 500,905 C531.2,895.2 578.3,887.7 600,882 C621.7,876.3 625,872.8 630,871" fill="none" stroke="#2f5f70" stroke-width="1.2" opacity="0.6"/>
<path d="M413,987 C427.5,978.2 468.8,949.5 500,934 C531.2,918.5 574.2,904.5 600,894 C625.8,883.5 645.8,874.8 655,871" fill="none" stroke="#2f5f70" stroke-width="1.2" opacity="0.6"/>
<path d="M413,1018 C427.5,1009 468.8,982.5 500,964 C531.2,945.5 570,921.8 600,907 C630,892.2 656.3,882.2 680,875 C703.7,867.8 731.7,865.8 742,864" fill="none" stroke="#2f5f70" stroke-width="1.2" opacity="0.6"/>
<path d="M448,853 Q454.2,888.6 475,899 Q454.4,909.3 449,947 Q442.8,909.1 422,898 Q442.6,888.4 448,853Z" fill="#e6e6ea" stroke="#111" stroke-width="4.5" />
<polygon points="688.5,899 688.6,910.2 699,914.6 688.3,918.1 687.4,929.4 680.7,920.3 669.7,922.9 676.3,913.8 670.4,904.1 681.1,907.5" fill="#eee33a"/>
<polygon points="739.2,947.1 741.9,956.6 751.6,957.9 743.4,963.3 745.2,973 737.5,966.9 728.8,971.6 732.3,962.3 725.1,955.5 735,956" fill="#f39234"/>
<line x1="757" y1="850" x2="758" y2="972" stroke="#111" stroke-width="4" />
<line x1="802" y1="850" x2="796" y2="885" stroke="#111" stroke-width="4" />
<line x1="853" y1="848" x2="838" y2="905" stroke="#111" stroke-width="4" />
<line x1="906" y1="852" x2="902" y2="866" stroke="#111" stroke-width="4" />
<defs><linearGradient id="slotg" x1="0" y1="0" x2="1" y2="0"><stop offset="0" stop-color="#000" stop-opacity="0.75"/><stop offset="1" stop-color="#000" stop-opacity="0"/></linearGradient></defs>
<rect x="413" y="845" width="24" height="275" fill="url(#slotg)"/>
<path d="M699,1176 a330,330 0 1 0 660,0 a330,330 0 1 0 -660,0Z M701.6,1176 a326.8,326.8 0 1 0 653.6,0 a326.8,326.8 0 1 0 -653.6,0Z" fill="#1a1a1a" stroke="none" stroke-width="0" fill-rule="evenodd"/>
<path d="M701.6,1176 a326.8,326.8 0 1 0 653.6,0 a326.8,326.8 0 1 0 -653.6,0Z M713.3,1176.2 a312.4,312.4 0 1 0 624.8,0 a312.4,312.4 0 1 0 -624.8,0Z" fill="#ec4035" stroke="none" stroke-width="0" fill-rule="evenodd"/>
<path d="M713.3,1176.2 a312.4,312.4 0 1 0 624.8,0 a312.4,312.4 0 1 0 -624.8,0Z M725,1176.3 a298.1,298.1 0 1 0 596.1,0 a298.1,298.1 0 1 0 -596.1,0Z" fill="#f28c3c" stroke="none" stroke-width="0" fill-rule="evenodd"/>
<path d="M725,1176.3 a298.1,298.1 0 1 0 596.1,0 a298.1,298.1 0 1 0 -596.1,0Z M736.7,1176.4 a283.7,283.7 0 1 0 567.4,0 a283.7,283.7 0 1 0 -567.4,0Z" fill="#ebe445" stroke="none" stroke-width="0" fill-rule="evenodd"/>
<path d="M736.7,1176.4 a283.7,283.7 0 1 0 567.4,0 a283.7,283.7 0 1 0 -567.4,0Z M748.3,1176.6 a269.3,269.3 0 1 0 538.6,0 a269.3,269.3 0 1 0 -538.6,0Z" fill="#9cd54a" stroke="none" stroke-width="0" fill-rule="evenodd"/>
<path d="M748.3,1176.6 a269.3,269.3 0 1 0 538.6,0 a269.3,269.3 0 1 0 -538.6,0Z M760,1176.7 a254.9,254.9 0 1 0 509.9,0 a254.9,254.9 0 1 0 -509.9,0Z" fill="#90d7e8" stroke="none" stroke-width="0" fill-rule="evenodd"/>
<path d="M760,1176.7 a254.9,254.9 0 1 0 509.9,0 a254.9,254.9 0 1 0 -509.9,0Z M771.7,1176.8 a240.6,240.6 0 1 0 481.2,0 a240.6,240.6 0 1 0 -481.2,0Z" fill="#a9a8e2" stroke="none" stroke-width="0" fill-rule="evenodd"/>
<path d="M771.7,1176.8 a240.6,240.6 0 1 0 481.2,0 a240.6,240.6 0 1 0 -481.2,0Z M783.4,1177 a226.2,226.2 0 1 0 452.4,0 a226.2,226.2 0 1 0 -452.4,0Z" fill="#e4e2f2" stroke="none" stroke-width="0" fill-rule="evenodd"/>
<path d="M783.4,1177 a226.2,226.2 0 1 0 452.4,0 a226.2,226.2 0 1 0 -452.4,0Z M786,1177 a223,223 0 1 0 446,0 a223,223 0 1 0 -446,0Z" fill="#1a1a1a" stroke="none" stroke-width="0" fill-rule="evenodd"/>
<circle cx="1025.7" cy="1176.2" r="312.4" fill="none" stroke="#333" stroke-width="1.8"/>
<circle cx="1023" cy="1176.3" r="298.1" fill="none" stroke="#333" stroke-width="1.8"/>
<circle cx="1020.3" cy="1176.4" r="283.7" fill="none" stroke="#333" stroke-width="1.8"/>
<circle cx="1017.7" cy="1176.6" r="269.3" fill="none" stroke="#333" stroke-width="1.8"/>
<circle cx="1015" cy="1176.7" r="254.9" fill="none" stroke="#333" stroke-width="1.8"/>
<circle cx="1012.3" cy="1176.8" r="240.6" fill="none" stroke="#333" stroke-width="1.8"/>
<polygon points="740,1130 760,1000 800,1120" fill="#8e8e90" />
<polygon points="853,1072 985,993 985,1112 853,1112" fill="#8e8e90" />
<polygon points="963.8,988.3 966.6,1003.6 981.8,1006.9 968.2,1014.3 969.6,1029.8 958.4,1019.1 944.2,1025.3 950.8,1011.3 940.6,999.7 955.9,1001.7" fill="#8e8e90"/>
<polygon points="860,982 864.4,993.9 877.1,994.4 867.2,1002.3 870.6,1014.6 860,1007.6 849.4,1014.6 852.8,1002.3 842.9,994.4 855.6,993.9" fill="#8e8e90"/>
<polygon points="1050,1040 1054.9,1053.2 1069,1053.8 1058,1062.6 1061.8,1076.2 1050,1068.4 1038.2,1076.2 1042,1062.6 1031,1053.8 1045.1,1053.2" fill="#8e8e90"/>
<polygon points="1000,1074 1003.9,1084.6 1015.2,1085.1 1006.4,1092.1 1009.4,1102.9 1000,1096.7 990.6,1102.9 993.6,1092.1 984.8,1085.1 996.1,1084.6" fill="#8e8e90"/>
<polygon points="905,1066 908.5,1075.2 918.3,1075.7 910.6,1081.8 913.2,1091.3 905,1085.9 896.8,1091.3 899.4,1081.8 891.7,1075.7 901.5,1075.2" fill="#90d7e8"/>
<polygon points="977.3,1037.2 978.9,1046.2 987.9,1048.2 979.8,1052.6 980.7,1061.7 974.1,1055.4 965.6,1059 969.6,1050.8 963.5,1043.9 972.6,1045.1" fill="#90d7e8"/>
<polygon points="940,1090 942.5,1096.6 949.5,1096.9 944,1101.3 945.9,1108.1 940,1104.2 934.1,1108.1 936,1101.3 930.5,1096.9 937.5,1096.6" fill="#90d7e8"/>
<line x1="1032" y1="964" x2="853" y2="1072" stroke="#111" stroke-width="4.5" />
<line x1="1090" y1="1008" x2="985" y2="1062" stroke="#111" stroke-width="4.5" />
<line x1="1090" y1="1078" x2="1003" y2="1109" stroke="#111" stroke-width="4.5" />
<rect x="847" y="901" width="116" height="170" rx="8" fill="none" stroke="#333" stroke-width="6" opacity="0.8"/>
<path d="M870,905 C873.3,914.2 882.5,942.5 890,960 C897.5,977.5 907.5,996.7 915,1010 C922.5,1023.3 929.2,1030 935,1040 C940.8,1050 947.5,1065 950,1070" fill="none" stroke="#333" stroke-width="2.5" />
<path d="M950,912 C946.7,920 937.5,945.3 930,960 C922.5,974.7 913.3,988.3 905,1000 C896.7,1011.7 887.5,1018.3 880,1030 C872.5,1041.7 863.3,1063.3 860,1070" fill="none" stroke="#333" stroke-width="2.5" />
<polygon points="1052,982 1056.9,995.2 1071,995.8 1060,1004.6 1063.8,1018.2 1052,1010.4 1040.2,1018.2 1044,1004.6 1033,995.8 1047.1,995.2" fill="#8e8e90"/>
<polygon points="1052,1054 1056.4,1065.9 1069.1,1066.4 1059.2,1074.3 1062.6,1086.6 1052,1079.6 1041.4,1086.6 1044.8,1074.3 1034.9,1066.4 1047.6,1065.9" fill="#8e8e90"/>
<polygon points="1085,961 1088.5,970.2 1098.3,970.7 1090.6,976.8 1093.2,986.3 1085,980.9 1076.8,986.3 1079.4,976.8 1071.7,970.7 1081.5,970.2" fill="#8e8e90"/>
<polygon points="796.1,877.8 810.9,899.5 836.9,896 820.9,916.8 832.2,940.4 807.5,931.6 788.5,949.7 789.3,923.5 766.2,911 791.4,903.6" fill="#e8e63c" stroke="#111" stroke-width="7" stroke-linejoin="round"/>
<polygon points="1001.6,928.1 1002.4,951.6 1024,961.2 1001.8,969.2 999.4,992.7 984.9,974.1 961.8,979 975,959.5 963.2,939.1 985.9,945.6" fill="#d7d63a" stroke="#111" stroke-width="6" stroke-linejoin="round"/>
<path d="M1012,852 Q1019.6,881.4 1050,888 Q1019.6,896 1012,925 Q1006.6,896.4 985,890 Q1006.6,881.8 1012,852Z" fill="#dcdce2" stroke="none" stroke-width="0" />
<path d="M649,1046 L738,1064 L789,989 L798,1080 L886,1098 L880,1120 L700,1120 Z" fill="#06a656" stroke="#111" stroke-width="8" stroke-linejoin="round"/>
<polygon points="732,1071 735.7,1080.9 746.3,1081.4 738,1087.9 740.8,1098.1 732,1092.3 723.2,1098.1 726,1087.9 717.7,1081.4 728.3,1080.9" fill="#e8342e"/>
<polygon points="779,1073 782.7,1082.9 793.3,1083.4 785,1089.9 787.8,1100.1 779,1094.3 770.2,1100.1 773,1089.9 764.7,1083.4 775.3,1082.9" fill="#e8e63c"/>
<path d="M1088,922 C1088,914.2 1091.2,896 1099,885 C1106.8,874 1122.3,861.8 1135,856 C1147.7,850.2 1160.7,851 1175,850 C1189.3,849 1206.5,849.7 1221,850 C1235.5,850.3 1248.8,849.5 1262,852 C1275.2,854.5 1291,858.7 1300,865 C1309,871.3 1316,881.2 1316,890 C1316,898.8 1309.8,912.2 1300,918 C1290.2,923.8 1267,921.7 1257,925 C1247,928.3 1249.8,935.3 1240,938 C1230.2,940.7 1214.8,940.7 1198,941 C1181.2,941.3 1155.5,941.5 1139,940 C1122.5,938.5 1107.5,935 1099,932 C1090.5,929 1088,929.8 1088,922Z" fill="#d2eaf0" stroke="#1a1a1a" stroke-width="4" />
<path d="M1178,862 C1181.7,863.3 1195.3,865.3 1200,870 C1204.7,874.7 1205,886.7 1206,890" fill="none" stroke="#222" stroke-width="3" />
<path d="M1225,868 C1228.8,868.7 1242.8,868 1248,872 C1253.2,876 1254.7,888.7 1256,892" fill="none" stroke="#222" stroke-width="3" />
<path d="M1175,905 C1178.3,906.2 1190.8,908.2 1195,912 C1199.2,915.8 1199.2,925.3 1200,928" fill="none" stroke="#222" stroke-width="3" />
<path d="M1250,905 C1252,906.7 1260.7,911.7 1262,915 C1263.3,918.3 1258.7,923.3 1258,925" fill="none" stroke="#222" stroke-width="3" />
<line x1="1050" y1="905" x2="1160" y2="905" stroke="#f39234" stroke-width="2.5" />
<line x1="1083.3" y1="892.5" x2="1126.7" y2="917.5" stroke="#f39234" stroke-width="2.5" />
<line x1="1092.5" y1="883.3" x2="1117.5" y2="926.7" stroke="#f39234" stroke-width="2.5" />
<line x1="1105" y1="850" x2="1105" y2="960" stroke="#f39234" stroke-width="2.5" />
<line x1="1117.5" y1="883.3" x2="1092.5" y2="926.7" stroke="#f39234" stroke-width="2.5" />
<line x1="1126.7" y1="892.5" x2="1083.3" y2="917.5" stroke="#f39234" stroke-width="2.5" />
<line x1="1183" y1="1023" x2="1299" y2="1023" stroke="#e0308c" stroke-width="2.5" />
<line x1="1216.8" y1="1009" x2="1265.2" y2="1037" stroke="#e0308c" stroke-width="2.5" />
<line x1="1227" y1="998.8" x2="1255" y2="1047.2" stroke="#e0308c" stroke-width="2.5" />
<line x1="1241" y1="965" x2="1241" y2="1081" stroke="#e0308c" stroke-width="2.5" />
<line x1="1255" y1="998.8" x2="1227" y2="1047.2" stroke="#e0308c" stroke-width="2.5" />
<line x1="1265.2" y1="1009" x2="1216.8" y2="1037" stroke="#e0308c" stroke-width="2.5" />
<path d="M1133,1011 Q1139.8,1047.7 1164,1058 Q1139.8,1068.8 1133,1107 Q1126,1068.8 1101,1058 Q1126,1047.7 1133,1011Z" fill="#f6f0ea" stroke="#111" stroke-width="5" />
<line x1="1000" y1="1108" x2="1101" y2="1060" stroke="#111" stroke-width="4.5" />
<line x1="1164" y1="1052" x2="1190" y2="1040" stroke="#111" stroke-width="4.5" />
<path d="M1328,967 C1328,960.2 1327.8,950.2 1332,944 C1336.2,937.8 1346,935.2 1353,930 C1360,924.8 1367.7,917.3 1374,913 C1380.3,908.7 1384.3,905.2 1391,904 C1397.7,902.8 1408,903.7 1414,906 C1420,908.3 1421,914.8 1427,918 C1433,921.2 1438.8,919.5 1450,925 C1461.2,930.5 1484.2,944 1494,951 C1503.8,958 1506.2,960.8 1509,967 C1511.8,973.2 1512.7,981 1511,988 C1509.3,995 1498.2,1002.5 1499,1009 C1499.8,1015.5 1512.2,1019.3 1516,1027 C1519.8,1034.7 1522.8,1045.3 1522,1055 C1521.2,1064.7 1515.7,1078.5 1511,1085 C1506.3,1091.5 1499.8,1092.2 1494,1094 C1488.2,1095.8 1484.3,1096.8 1476,1096 C1467.7,1095.2 1452.8,1087.5 1444,1089 C1435.2,1090.5 1432.3,1102.3 1423,1105 C1413.7,1107.7 1396.2,1108.3 1388,1105 C1379.8,1101.7 1377,1092.7 1374,1085 C1371,1077.3 1369.5,1066.3 1370,1059 C1370.5,1051.7 1377.8,1046 1377,1041 C1376.2,1036 1369.5,1035.8 1365,1029 C1360.5,1022.2 1355.5,1007.3 1350,1000 C1344.5,992.7 1335.7,990.5 1332,985 C1328.3,979.5 1328,973.8 1328,967Z" fill="#ecec28" stroke="#111" stroke-width="5" />
<polygon points="1497.1,1014.3 1499.4,1026.7 1511.8,1029.5 1500.7,1035.5 1501.9,1048.2 1492.7,1039.4 1481.1,1044.5 1486.5,1033.1 1478.1,1023.5 1490.7,1025.2" fill="#8a8aa8"/>
<line x1="1472" y1="981" x2="1511" y2="1002" stroke="#111" stroke-width="4.5" />
<line x1="1430" y1="1027" x2="1520" y2="1057" stroke="#111" stroke-width="4.5" />
<path d="M1376,848 Q1384.1,875.3 1413,883 Q1384.1,897.7 1376,950 Q1369,897.7 1344,883 Q1369,875.3 1376,848Z" fill="#f4ece6" stroke="#111" stroke-width="5" />
<path d="M1450,879 Q1460.8,926.9 1499,939 Q1460.8,963 1450,1043 Q1439.9,963.9 1404,943 Q1439.9,927.8 1450,879Z" fill="#f2eae4" stroke="#111" stroke-width="5" />
<path d="M1353,921 Q1366.5,998.1 1413,1020 Q1367.5,1035.9 1358,1110 Q1345.5,1034.5 1303,1013 Q1344.5,996.7 1353,921Z" fill="#e8e8ee" stroke="#111" stroke-width="5" />
<polygon points="1514,1001 1752,1102 1523,1054" fill="#8e8e90" />
<polygon points="1500,1093 1752,1102 1500,1115 1752,1115" fill="#8e8e90" />
<polygon points="1584.2,863.3 1588.8,883.9 1609.5,887.8 1591.3,898.5 1594.1,919.5 1578.2,905.5 1559.2,914.6 1567.6,895.2 1553,879.8 1574.1,881.9" fill="#8e8e90"/>
<polygon points="1587.1,937.2 1595.9,954.8 1615.6,953.6 1601.5,967.4 1608.7,985.8 1591.2,976.7 1576,989.2 1579.3,969.8 1562.6,959.2 1582.1,956.3" fill="#8e8e90"/>
<polygon points="1548,934 1551.9,944.6 1563.2,945.1 1554.4,952.1 1557.4,962.9 1548,956.7 1538.6,962.9 1541.6,952.1 1532.8,945.1 1544.1,944.6" fill="#8e8e90"/>
<polygon points="1595,1000 1599.9,1013.2 1614,1013.8 1603,1022.6 1606.8,1036.2 1595,1028.4 1583.2,1036.2 1587,1022.6 1576,1013.8 1590.1,1013.2" fill="#8e8e90"/>
<polygon points="1560,1051 1565.9,1066.8 1582.8,1067.6 1569.6,1078.1 1574.1,1094.4 1560,1085.1 1545.9,1094.4 1550.4,1078.1 1537.2,1067.6 1554.1,1066.8" fill="#8e8e90"/>
<polygon points="1600,1072 1604.4,1083.9 1617.1,1084.4 1607.2,1092.3 1610.6,1104.6 1600,1097.6 1589.4,1104.6 1592.8,1092.3 1582.9,1084.4 1595.6,1083.9" fill="#8e8e90"/>
<polygon points="1540,866 1543.5,875.2 1553.3,875.7 1545.6,881.8 1548.2,891.3 1540,885.9 1531.8,891.3 1534.4,881.8 1526.7,875.7 1536.5,875.2" fill="#8e8e90"/>
<line x1="1527" y1="879" x2="1752" y2="1102" stroke="#111" stroke-width="4.5" />
<line x1="1492" y1="932" x2="1752" y2="1102" stroke="#111" stroke-width="4.5" />
<line x1="1514" y1="1001" x2="1752" y2="1102" stroke="#111" stroke-width="4.5" />
<line x1="1523" y1="1054" x2="1752" y2="1102" stroke="#111" stroke-width="4.5" />
<line x1="1500" y1="1093" x2="1752" y2="1102" stroke="#111" stroke-width="4.5" />
<line x1="1472" y1="981" x2="1511" y2="1002" stroke="#111" stroke-width="4.5" />
<line x1="1423" y1="1085" x2="1470" y2="1090" stroke="#111" stroke-width="4.5" />
<rect x="1610" y="840" width="160" height="280" fill="#a6a6a8"/>
<polygon points="1650,864 1653.9,874.6 1665.2,875.1 1656.4,882.1 1659.4,892.9 1650,886.7 1640.6,892.9 1643.6,882.1 1634.8,875.1 1646.1,874.6" fill="#90d4e4"/>
<polygon points="1680,916 1683.5,925.2 1693.3,925.7 1685.6,931.8 1688.2,941.3 1680,935.9 1671.8,941.3 1674.4,931.8 1666.7,925.7 1676.5,925.2" fill="#90d4e4"/>
<polygon points="1700,957 1704.4,968.9 1717.1,969.4 1707.2,977.3 1710.6,989.6 1700,982.6 1689.4,989.6 1692.8,977.3 1682.9,969.4 1695.6,968.9" fill="#90d4e4"/>
<polygon points="1640,985 1643.7,994.9 1654.3,995.4 1646,1001.9 1648.8,1012.1 1640,1006.3 1631.2,1012.1 1634,1001.9 1625.7,995.4 1636.3,994.9" fill="#90d4e4"/>
<polygon points="1725,1026 1728.5,1035.2 1738.3,1035.7 1730.6,1041.8 1733.2,1051.3 1725,1045.9 1716.8,1051.3 1719.4,1041.8 1711.7,1035.7 1721.5,1035.2" fill="#90d4e4"/>
<polygon points="1660,1048 1663,1055.9 1671.4,1056.3 1664.8,1061.6 1667.1,1069.7 1660,1065 1652.9,1069.7 1655.2,1061.6 1648.6,1056.3 1657,1055.9" fill="#90d4e4"/>
<line x1="1630" y1="870" x2="1752" y2="1104" stroke="#111" stroke-width="4" />
<line x1="1630" y1="945" x2="1752" y2="1104" stroke="#111" stroke-width="4" />
<line x1="1630" y1="1040" x2="1752" y2="1104" stroke="#111" stroke-width="4" />
<line x1="1630" y1="1080" x2="1752" y2="1104" stroke="#111" stroke-width="4" />
<line x1="1640" y1="1100" x2="1752" y2="1104" stroke="#111" stroke-width="4" />
<line x1="1700" y1="850" x2="1752" y2="1104" stroke="#111" stroke-width="4" />
<path d="M1765,875 C1759.2,873.5 1740,866.5 1730,866 C1720,865.5 1710,865.5 1705,872 C1700,878.5 1702.5,896.2 1700,905 C1697.5,913.8 1694.2,918.3 1690,925 C1685.8,931.7 1678,937.8 1675,945 C1672,952.2 1669.8,961.3 1672,968 C1674.2,974.7 1682.8,978.8 1688,985 C1693.2,991.2 1699,999.5 1703,1005 C1707,1010.5 1707.5,1016.3 1712,1018 C1716.5,1019.7 1724.5,1017.5 1730,1015 C1735.5,1012.5 1739.2,1005 1745,1003 C1750.8,1001 1761.7,1003 1765,1003Z" fill="#e4e4ea" stroke="#111" stroke-width="4.5" />
<clipPath id="rclip"><rect x="1768" y="830" width="200" height="300"/></clipPath>
<g clip-path="url(#rclip)">
<path d="M1309,1248 a358,358 0 1 0 716,0 a358,358 0 1 0 -716,0Z M1312,1248 a355,355 0 1 0 710,0 a355,355 0 1 0 -710,0Z" fill="#1a1a1a" stroke="none" stroke-width="0" fill-rule="evenodd"/>
<path d="M1312,1248 a355,355 0 1 0 710,0 a355,355 0 1 0 -710,0Z M1332,1248 a335,335 0 1 0 670,0 a335,335 0 1 0 -670,0Z" fill="#ec4440" stroke="none" stroke-width="0" fill-rule="evenodd"/>
<path d="M1332,1248 a335,335 0 1 0 670,0 a335,335 0 1 0 -670,0Z M1334,1248 a333,333 0 1 0 666,0 a333,333 0 1 0 -666,0Z" fill="#2a2a2a" stroke="none" stroke-width="0" fill-rule="evenodd"/>
<path d="M1334,1248 a333,333 0 1 0 666,0 a333,333 0 1 0 -666,0Z M1356,1248 a311,311 0 1 0 622,0 a311,311 0 1 0 -622,0Z" fill="#f2913c" stroke="none" stroke-width="0" fill-rule="evenodd"/>
<path d="M1356,1248 a311,311 0 1 0 622,0 a311,311 0 1 0 -622,0Z M1384,1248 a283,283 0 1 0 566,0 a283,283 0 1 0 -566,0Z" fill="#eae25a" stroke="none" stroke-width="0" fill-rule="evenodd"/>
<path d="M1384,1248 a283,283 0 1 0 566,0 a283,283 0 1 0 -566,0Z M1405,1248 a262,262 0 1 0 524,0 a262,262 0 1 0 -524,0Z" fill="#2a68c4" stroke="none" stroke-width="0" fill-rule="evenodd"/>
<path d="M1405,1248 a262,262 0 1 0 524,0 a262,262 0 1 0 -524,0Z M1409,1248 a258,258 0 1 0 516,0 a258,258 0 1 0 -516,0Z" fill="#222" stroke="none" stroke-width="0" fill-rule="evenodd"/>
<path d="M1779,899 C1779,892.5 1780.5,884.8 1784,881 C1787.5,877.2 1796.2,879.5 1800,876 C1803.8,872.5 1802.3,863.8 1807,860 C1811.7,856.2 1821.5,853.8 1828,853 C1834.5,852.2 1837.3,855.2 1846,855 C1854.7,854.8 1868.5,852 1880,852 C1891.5,852 1908,852.2 1915,855 C1922,857.8 1918.2,865.2 1922,869 C1925.8,872.8 1933,874.2 1938,878 C1943,881.8 1949.7,885.8 1952,892 C1954.3,898.2 1956.2,910.3 1952,915 C1947.8,919.7 1933.8,917.7 1927,920 C1920.2,922.3 1916.8,925.2 1911,929 C1905.2,932.8 1900.8,939.8 1892,943 C1883.2,946.2 1867.5,948.8 1858,948 C1848.5,947.2 1843.5,938.8 1835,938 C1826.5,937.2 1813.7,944.5 1807,943 C1800.3,941.5 1798.8,932.8 1795,929 C1791.2,925.2 1786.7,925 1784,920 C1781.3,915 1779,905.5 1779,899Z" fill="#c6c4e6" stroke="#111" stroke-width="5" />
<path d="M1765,1052 C1769.3,1050.8 1784,1046.2 1791,1045 C1798,1043.8 1803.5,1048.8 1807,1045 C1810.5,1041.2 1808.5,1027.8 1812,1022 C1815.5,1016.2 1820.3,1012.3 1828,1010 C1835.7,1007.7 1848,1006.8 1858,1008 C1868,1009.2 1881.5,1013.2 1888,1017 C1894.5,1020.8 1894.7,1025.7 1897,1031 C1899.3,1036.3 1899.3,1047.5 1902,1049 C1904.7,1050.5 1908.8,1043 1913,1040 C1917.2,1037 1920.5,1032.5 1927,1031 C1933.5,1029.5 1947.8,1031 1952,1031 L1952,1125 L1765,1125Z" fill="#e2e1ec" stroke="#111" stroke-width="5" />
<line x1="1940" y1="852" x2="1940" y2="1005" stroke="#111" stroke-width="4" />
<line x1="1840" y1="1020" x2="1930" y2="1105" stroke="#efedc8" stroke-width="4" />
<line x1="1925" y1="1020" x2="1845" y2="1105" stroke="#efedc8" stroke-width="4" />
<line x1="1814" y1="929" x2="1904" y2="929" stroke="#1aa8e0" stroke-width="2.5" />
<line x1="1841.7" y1="919" x2="1876.3" y2="939" stroke="#1aa8e0" stroke-width="2.5" />
<line x1="1849" y1="911.7" x2="1869" y2="946.3" stroke="#1aa8e0" stroke-width="2.5" />
<line x1="1859" y1="884" x2="1859" y2="974" stroke="#1aa8e0" stroke-width="2.5" />
<line x1="1869" y1="911.7" x2="1849" y2="946.3" stroke="#1aa8e0" stroke-width="2.5" />
<line x1="1876.3" y1="919" x2="1841.7" y2="939" stroke="#1aa8e0" stroke-width="2.5" />
<line x1="1923" y1="1091" x2="1946" y2="1091" stroke="#e0308c" stroke-width="4" />
</g>
</g>
<path d="M796,852 C800,835 815,826 852,825 C900,825 935,835 955,852Z" fill="#262626" stroke="none" stroke-width="0" />
<path d="M793,1108 C798,1122 815,1125 852,1125 C900,1125 935,1118 955,1108Z" fill="#262626" stroke="none" stroke-width="0" />
<path d="M784.5,850 C788.8,828.7 804,813.5 852,813.5 C936.9,813.5 986.5,881.4 986.5,974 C986.5,1066.7 936.9,1134.5 852,1134.5 C804,1134.5 785.8,1127.3 781.5,1110" fill="none" stroke="#a8a8ac" stroke-width="27" />
<path d="M773.5,850 C780,826.5 800.8,805 852,805 C943.5,805 997.5,880.2 997.5,974 C997.5,1067.8 943.5,1143 852,1143 C800.8,1143 777,1129.5 770.5,1110" fill="none" stroke="#8e8e92" stroke-width="3" />
<path d="M777.5,850 C783.2,827.3 802,808.1 852,808.1 C941.1,808.1 993.5,880.6 993.5,974 C993.5,1067.3 941.1,1139.9 852,1139.9 C802,1139.9 780.2,1128.7 774.5,1110" fill="none" stroke="#f2f2f2" stroke-width="5" />
<path d="M783,850 C787.6,828.4 803.6,812.4 852,812.4 C937.8,812.4 988,881.2 988,974 C988,1066.8 937.8,1135.6 852,1135.6 C803.6,1135.6 784.6,1127.6 780,1110" fill="none" stroke="#66666a" stroke-width="6" />
<path d="M788,850 C791.6,829.4 805.1,816.3 852,816.3 C934.8,816.3 983,881.7 983,974 C983,1066.3 934.8,1131.7 852,1131.7 C805.1,1131.7 788.6,1126.6 785,1110" fill="none" stroke="#d4d4d6" stroke-width="4" />
<path d="M772,850 C778.8,826.2 800.3,803.8 852,803.8 C944.4,803.8 999,880.1 999,974 C999,1067.9 944.4,1144.2 852,1144.2 C800.3,1144.2 775.8,1129.8 769,1110" fill="none" stroke="#3a3a3c" stroke-width="2" />
<path d="M797,850 C798.8,831.2 807.8,823.3 852,823.3 C929.4,823.3 974,882.6 974,974 C974,1065.4 929.4,1124.7 852,1124.7 C807.8,1124.7 795.8,1124.8 794,1110" fill="none" stroke="#303032" stroke-width="2.5" />
<path d="M1628,885 C1628,852 1638,834 1652,834 C1667,834 1679,840 1686,843.5 C1695,837 1708,830 1725,830 C1740,830 1748,845 1748,870 L1748,853 L1628,853Z" fill="#262626" stroke="none" stroke-width="0" />
<path d="M1628,1106 L1748,1106 L1748,1090 C1748,1110 1740,1124 1727,1124 C1708,1124 1697,1117 1690,1112 C1681,1118 1667,1124 1653,1124 C1638,1124 1628,1110 1628,1090 Z" fill="#262626" stroke="none" stroke-width="0" />
<path d="M1608,880 C1608,845 1625,818 1651,818 C1668,818 1680,826 1687,832 C1696,823 1708,815.5 1725,815.5 C1752,815.5 1769,838 1769,870 L1769,1090 C1769,1120 1752,1139 1727,1139 C1710,1139 1698,1131 1690,1124 C1682,1132 1670,1139 1653,1139 C1625,1139 1608,1118 1608,1090 Z M1628,885 C1628,852 1638,834 1652,834 C1667,834 1679,840 1686,843.5 C1695,837 1708,830 1725,830 C1740,830 1748,845 1748,870 L1748,1090 C1748,1110 1740,1124 1727,1124 C1708,1124 1697,1117 1690,1112 C1681,1118 1667,1124 1653,1124 C1638,1124 1628,1110 1628,1090 Z" fill="#1f1f1f" stroke="none" stroke-width="0" fill-rule="evenodd"/>
<path d="M1618,880 C1618,850 1632,827 1652,826 C1667,826 1678,833 1687,840 C1696,832 1708,823 1725,823 C1748,823 1759,842 1759,870 L1759,1090" fill="none" stroke="#3c3c3e" stroke-width="2.2" />
<path d="M1640,842 C1645,838 1650,837 1655,838" fill="none" stroke="#d8d8d8" stroke-width="3" />
<path d="M1618,1090 C1618,1115 1632,1131 1653,1131 C1670,1131 1680,1124 1690,1118 C1700,1125 1710,1131 1727,1131 C1748,1131 1759,1115 1759,1090" fill="none" stroke="#3a3a3c" stroke-width="2.2" />
</svg>
</body></html>
